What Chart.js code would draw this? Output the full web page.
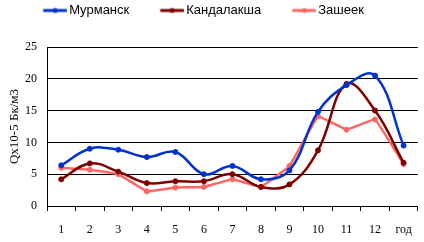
<!DOCTYPE html>
<html><head><meta charset="utf-8">
<script src="https://cdn.jsdelivr.net/npm/chart.js@4"></script>
<style>html,body{margin:0;padding:0;background:#fff}#w{width:424px;height:242px}</style>
</head><body><div id="w"><canvas id="c" width="424" height="242"></canvas></div>
<script>
const categories = ["1","2","3","4","5","6","7","8","9","10","11","12","год"];
const murmansk   = [6.4, 9.0, 8.85, 7.7, 8.5, 5.0, 6.3, 4.2, 5.6, 14.8, 19.0, 20.5, 9.5];
const kandalaksha= [4.2, 6.7, 5.4, 3.6, 3.9, 3.9, 5.0, 3.0, 3.4, 8.75, 19.2, 15.0, 6.8];
const zasheek     = [6.0, 5.7, 5.0, 2.3, 2.9, 3.0, 4.2, 3.0, 6.3, 14.1, 12.0, 13.6, 6.6];
const yTicks = [0,5,10,15,20,25];

// legend icon: line + dot, drawn left-shifted so text gap matches
function legendIcon(color){
  const c = document.createElement('canvas');
  c.width = 56; c.height = 10;
  const x = c.getContext('2d');
  x.strokeStyle = color; x.lineWidth = 3;
  x.beginPath(); x.moveTo(31.75,5); x.lineTo(55.75,5); x.stroke();
  x.fillStyle = color; x.beginPath(); x.arc(43.75,5,2.5,0,Math.PI*2); x.fill();
  return c;
}
const colors = ['#0033CC','#800000','#FF6666'];
const icons = colors.map(legendIcon);

function ds(label, data, color, tension){
  return {label, data, borderColor: color, backgroundColor: color,
    borderWidth: 2.5, pointRadius: 2.5, pointHoverRadius: 2.5, pointBackgroundColor: color,
    pointBorderColor: color, pointBorderWidth: 1, tension, cubicInterpolationMode: 'default', xAxisID:'x', yAxisID:'y'};
}

new Chart(document.getElementById('c'), {
  type: 'line',
  data: { labels: categories, datasets: [
    ds('Мурманск', murmansk, colors[0], 0.4),
    ds('Кандалакша', kandalaksha, colors[1], 0.4),
    ds('Зашеек', zasheek, colors[2], 0.05)
  ]},
  options: {
    responsive: false, animation: false, devicePixelRatio: 1,
    layout: { padding: { left: -38, right: 6, top: 0, bottom: 0 } },
    plugins: {
      tooltip: {enabled:false},
      legend: {
        position: 'top',
        labels: {
          usePointStyle: true, pointStyleWidth: 46.5, padding: 4,
          font: { family: 'Liberation Sans', size: 13 }, color: '#000',
          generateLabels: (chart) => chart.data.datasets.map((d,i) => ({
            text: d.label, pointStyle: icons[i], fillStyle: colors[i], strokeStyle: colors[i],
            lineWidth: 0, datasetIndex: i, hidden: false, fontColor: '#000'
          }))
        }
      }
    },
    scales: {
      xTop: {
        type: 'category', position: 'top', labels: categories,
        grid: { display: false, drawTicks: false }, border: { display: false },
        ticks: { display: false },
        afterFit: s => { s.height = 20; }
      },
      x: {
        type: 'category', offset: true,
        grid: { offset: true, drawOnChartArea: false, drawTicks: true, tickLength: 5, color: '#000', tickColor:'#000' },
        border: { display: true, color: '#000', width: 1 },
        ticks: { color: '#000', font: { family: 'Liberation Serif', size: 12 }, padding: 12, maxRotation: 0, autoSkip: false },
        afterFit: s => { s.height = 36; }
      },
      y: {
        min: 0, max: 25,
        afterBuildTicks: s => { s.ticks = yTicks.map(v => ({value: v})); },
        grid: { color: '#000', drawTicks: false, lineWidth: 1 },
        border: { display: true, color: '#000', width: 1 },
        ticks: { color: '#000', font: { family: 'Liberation Serif', size: 12 }, padding: 10 },
        title: { display: true, text: 'Qх10-5 Бк/м3', color: '#000', font: { family: 'Liberation Serif', size: 13 }, padding: { top: 45, bottom: 0 } },
        afterFit: s => { s.width = 85; }
      }
    }
  }
});
</script></body></html>
